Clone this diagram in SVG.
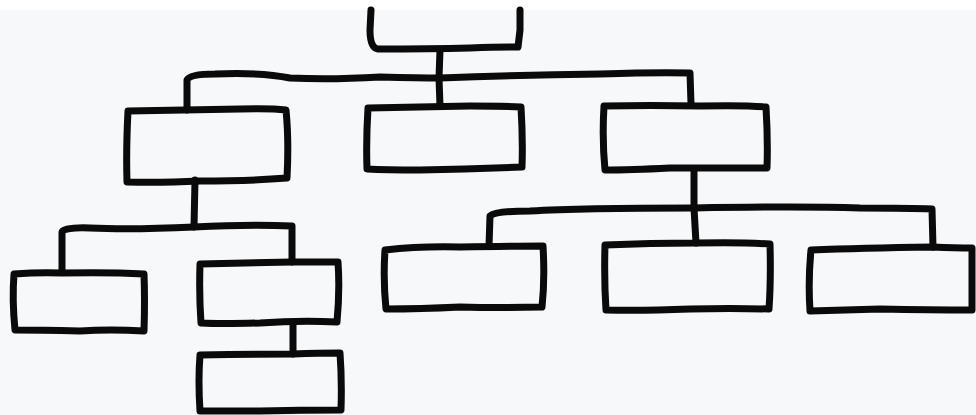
<svg xmlns="http://www.w3.org/2000/svg" width="976" height="415" viewBox="0 0 976 415">
<style>
.b{fill:none;stroke:#0a0a0a;stroke-width:7;stroke-linejoin:round;stroke-linecap:round}
.c{fill:none;stroke:#0a0a0a;stroke-width:7;stroke-linejoin:round;stroke-linecap:round}
</style>
<rect width="976" height="415" fill="#f7f8fa"/>
<rect width="976" height="10" fill="#ffffff"/>
<g id="connectors">
<path class="c" d="M440 50 L439 78 L440 106"/>
<path class="c" d="M187 110 L187 80 Q190 74 215 74 Q260 72 290 78 Q330 80 380 77 Q420 78 440 78 Q520 75 600 74 Q660 72 690 73 L691 104"/>
<path class="c" d="M195 180 L194 227"/>
<path class="c" d="M62 272 L62 232 Q64 227 90 228 Q130 230 194 227 Q250 224 292 226 L292 262"/>
<path class="c" d="M293 322 L293 354"/>
<path class="c" d="M694 170 L694 208 L696 243"/>
<path class="c" d="M489 246 L490 216 Q495 211 530 211 Q580 208 694 208 Q800 206 860 208 Q910 208 932 209 L933 247"/>
</g>
<g id="n0"><path class="b" d="M371 10 L370 30 Q370 48 378 49 Q430 49 470 48 Q500 47 518 47 L520 30 L520 10"/></g>
<g id="n1"><path class="b" d="M128 111 Q180 110 240 109 Q270 108 286 110 Q289 140 287 178 Q250 181 200 181 Q160 183 127 182 Q126 150 128 111 Z"/></g>
<g id="n2"><path class="b" d="M368 108 Q420 107 470 106 Q505 106 521 107 Q523 140 522 167 Q470 169 420 170 Q385 170 367 169 Q366 140 368 108 Z"/></g>
<g id="n3"><path class="b" d="M604 106 Q650 105 700 106 Q745 105 766 107 Q768 140 767 168 Q720 168 670 168 Q630 170 605 170 Q602 140 604 106 Z"/></g>
<g id="n4"><path class="b" d="M14 274 Q40 272 62 273 Q110 272 144 274 Q145 300 144 331 Q110 329 80 331 Q40 330 15 330 Q12 300 14 274 Z"/></g>
<g id="n5"><path class="b" d="M200 264 Q250 263 292 262 Q320 262 338 262 Q340 290 337 322 Q300 320 260 323 Q220 324 201 323 Q199 295 200 264 Z"/></g>
<g id="n6"><path class="b" d="M200 355 Q250 354 293 354 Q320 353 340 353 Q342 380 341 410 Q300 410 260 411 Q220 411 200 411 Q198 380 200 355 Z"/></g>
<g id="n7"><path class="b" d="M385 250 Q420 246 460 247 Q510 246 543 246 Q545 280 542 307 Q500 308 460 307 Q420 309 386 309 Q383 280 385 250 Z"/></g>
<g id="n8"><path class="b" d="M605 245 Q650 243 696 243 Q740 242 770 244 Q771 280 769 309 Q730 308 690 309 Q640 311 606 310 Q604 280 605 245 Z"/></g>
<g id="n9"><path class="b" d="M811 250 Q860 248 933 247 Q955 248 972 248 L972 310 Q930 310 880 309 Q840 310 810 311 Q808 280 811 250 Z"/></g>
</svg>
